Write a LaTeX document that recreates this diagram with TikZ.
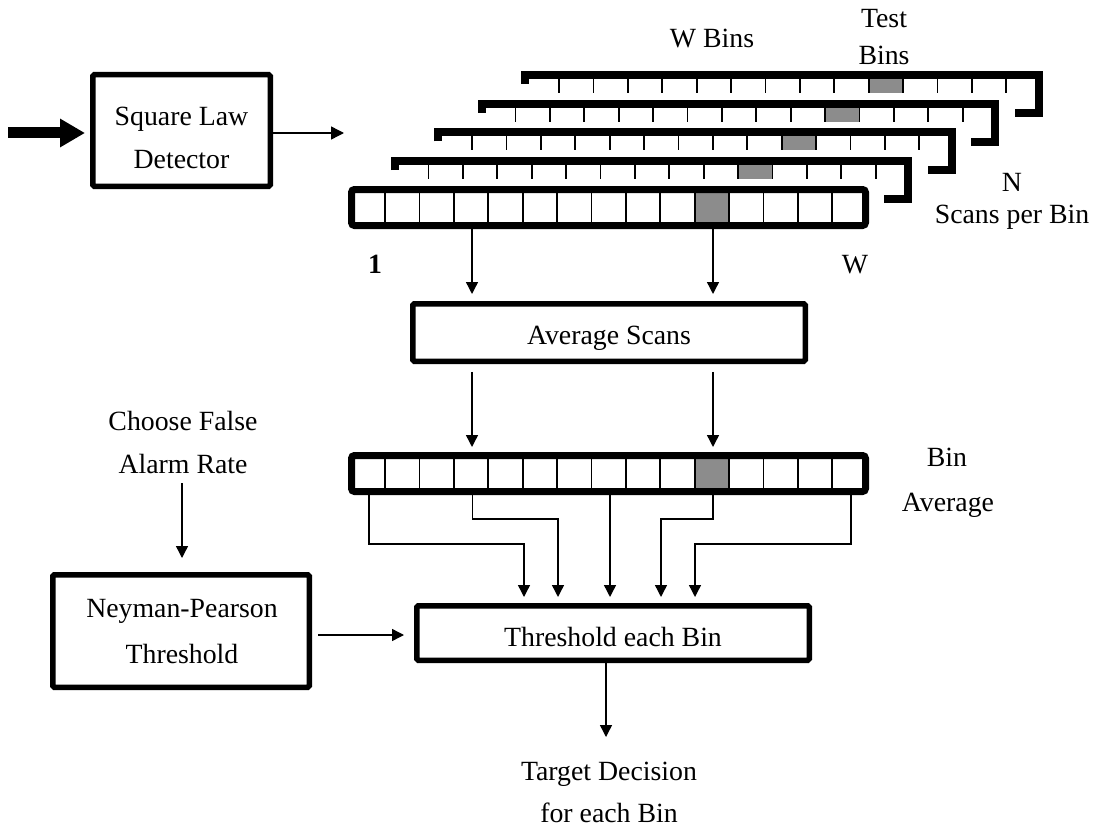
\documentclass[tikz,border=0pt]{standalone}
\usepackage{fontspec}
\setmainfont{Liberation Serif}
\usetikzlibrary{arrows.meta}
\definecolor{binshade}{RGB}{140,140,140}

\begin{document}
\begin{tikzpicture}[x=1pt,y=-1pt,
  every node/.style={font=\fontsize{27.8}{33}\selectfont},
  lbl/.style={anchor=base, inner sep=0pt, outer sep=0pt},
  block/.style={draw, line width=5.5pt, rounded corners=1.5pt, inner sep=0pt, outer sep=0pt},
  binrow/.style={draw, line width=7pt, rounded corners=3pt, minimum width=514pt,
                 minimum height=36pt, inner sep=0pt, outer sep=0pt},
  arr/.style={line width=1.4pt, -{Triangle[length=12pt,width=12pt]}},
  backrow/.style={line width=8pt},
  binline/.style={line width=1.8pt},
]
\useasboundingbox (0,0) rectangle (1097,832);

% ---------- square law detector ----------
\node[block, minimum width=177.5pt, minimum height=111.5pt] (sld) at (181.5,130.5) {};
\node[lbl] at (181.5,126) {Square Law};
\node[lbl] at (181.5,168) {Detector};

\coordinate (src) at (8,133);
\coordinate (stackin) at (344,133);
\draw[line width=11pt, -{Triangle[length=25pt,width=27pt]}, shorten >=7.75pt] (src) -- (sld.west |- src);
\draw[line width=1.4pt, -{Triangle[length=13pt,width=13pt]}] (sld.east |- stackin) -- (stackin);

% ---------- stacked scans (back rows) ----------
\foreach \r in {4,3,2,1} {
  \pgfmathsetmacro\dx{43.5*(\r-1)}
  \pgfmathsetmacro\dy{-28.7*(\r-1)}
  \fill[binshade] ({428.5+9*34.4+\dx},{165+\dy}) rectangle ({428.5+10*34.4+\dx},{179+\dy});
  \foreach \k in {0,...,13} {
    \draw[binline] ({428.5+34.4*\k+\dx},{164+\dy}) -- ++(0,15);
  }
  \draw[backrow] ({394.5+\dx},{170+\dy}) -- ({394.5+\dx},{161+\dy})
     -- ({908+\dx},{161+\dy}) -- ({908+\dx},{199+\dy}) -- ({884+\dx},{199+\dy});
}

% ---------- front scan row ----------
\fill[binshade] (694.6,193) rectangle (729,222);
\node[binrow] (scanrow) at (608.5,207.5) {};
\foreach \k in {0,...,13} {
  \draw[binline] ({385+34.4*\k},193) -- ({385+34.4*\k},222);
}

% ---------- labels around the stack ----------
\node[lbl] at (712,48) {W Bins};
\node[lbl] at (884,28) {Test};
\node[lbl] at (884,65) {Bins};
\node[lbl] at (1012,191) {N};
\node[lbl] at (1012,223) {Scans per Bin};
\node[lbl, font=\fontsize{27.8}{33}\selectfont\bfseries] at (375,273) {1};
\node[lbl] at (855,273) {W};

% ---------- averaging ----------
\node[block, minimum width=392.5pt, minimum height=57.5pt] (avgbox) at (609,332.5) {};
\node[lbl] at (609,344) {Average Scans};

\coordinate (cl) at (472,0);
\coordinate (cr) at (713,0);
\draw[arr, shorten >=9.75pt] (scanrow.south -| cl) -- (avgbox.north -| cl);
\draw[arr, shorten >=9.75pt] (scanrow.south -| cr) -- (avgbox.north -| cr);

% ---------- bin average row ----------
\fill[binshade] (694.6,459) rectangle (729,488);
\node[binrow] (binavg) at (608.5,473.5) {};
\foreach \k in {0,...,13} {
  \draw[binline] ({385+34.4*\k},459) -- ({385+34.4*\k},488);
}
\node[lbl] at (947,466) {Bin};
\node[lbl] at (948,511) {Average};

\draw[arr, shorten <=10.5pt, shorten >=8.5pt] (avgbox.south -| cl) -- (binavg.north -| cl);
\draw[arr, shorten <=10.5pt, shorten >=8.5pt] (avgbox.south -| cr) -- (binavg.north -| cr);

% ---------- threshold stage ----------
\node[block, minimum width=392.5pt, minimum height=54.5pt] (thr) at (613,633) {};
\node[lbl] at (613,646) {Threshold each Bin};

\coordinate (a1) at (369,544);  \coordinate (a2) at (524,544);
\coordinate (b1) at (472.5,519); \coordinate (b2) at (558,519);
\coordinate (c1) at (610,519);
\coordinate (d1) at (713,519);  \coordinate (d2) at (661,519);
\coordinate (e1) at (851,544);  \coordinate (e2) at (695,544);
\draw[arr, shorten >=8.75pt] (binavg.south -| a1) -- (a1) -- (a2) -- (thr.north -| a2);
\draw[arr, shorten >=8.75pt] (binavg.south -| b1) -- (b1) -- (b2) -- (thr.north -| b2);
\draw[arr, shorten >=8.75pt] (binavg.south -| c1) -- (thr.north -| c1);
\draw[arr, shorten >=8.75pt] (binavg.south -| d1) -- (d1) -- (d2) -- (thr.north -| d2);
\draw[arr, shorten >=8.75pt] (binavg.south -| e1) -- (e1) -- (e2) -- (thr.north -| e2);

% ---------- false alarm rate / Neyman-Pearson ----------
\node[lbl] at (183,430) {Choose False};
\node[lbl] at (183,473) {Alarm Rate};
\node[block, minimum width=256.5pt, minimum height=112.5pt] (np) at (181,631) {};
\node[lbl] at (182,617) {Neyman-Pearson};
\node[lbl] at (182,663) {Threshold};

\coordinate (far) at (182,483);
\draw[arr, shorten >=16.75pt] (far) -- (np.north -| far);

\coordinate (thrin) at (0,635);
\draw[arr, shorten <=8.75pt, shorten >=12.75pt] (np.east |- thrin) -- (thr.west |- thrin);

% ---------- decision output ----------
\coordinate (dec) at (606,737);
\draw[arr] (thr.south -| dec) -- (dec);
\node[lbl] at (609,780) {Target Decision};
\node[lbl] at (609,822) {for each Bin};

\end{tikzpicture}
\end{document}
